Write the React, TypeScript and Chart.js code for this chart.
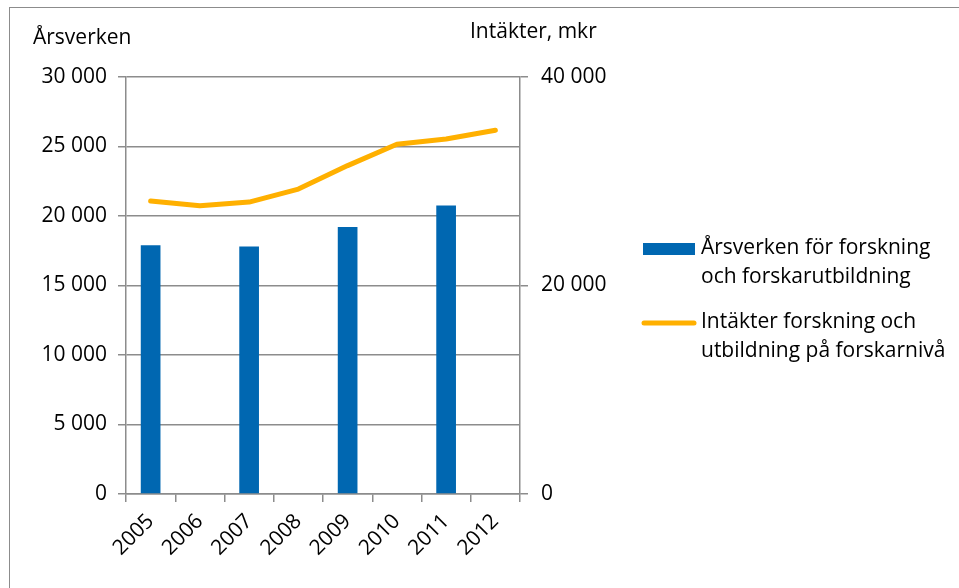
import React, { useEffect, useRef } from "react";
import { Chart, registerables } from "chart.js";

Chart.register(...registerables);

const years = ["2005", "2006", "2007", "2008", "2009", "2010", "2011", "2012"];
const arsverken = [17900, null, 17800, null, 19200, null, 20750, null];
const intakter = [28100, 27650, 28000, 29250, 31500, 33550, 34050, 34900];
const leftTitle = "Årsverken";
const rightTitle = "Intäkter, mkr";
const legendBar = ["Årsverken för forskning", "och forskarutbildning"];
const legendLine = ["Intäkter forskning och", "utbildning på forskarnivå"];

const BLUE = "#0067B1";
const ORANGE = "#FFB000";
const GRAY = "#8c8c8c";
const FONT = "'Open Sans', sans-serif";
const FS = 21;

const fmt = (v: number) => String(v).replace(/\B(?=(\d{3})+(?!\d))/g, " ");

const overlay = {
  id: "overlay",
  afterDraw(chart: any) {
    const ctx = chart.ctx;
    ctx.save();
    ctx.fillStyle = "#000";
    ctx.font = `${FS}px ${FONT}`;
    ctx.textBaseline = "middle";
    ctx.textAlign = "left";
    ctx.fillText(leftTitle, 33, 38);
    ctx.fillText(rightTitle, 470, 32);
    // legend
    ctx.fillStyle = BLUE;
    ctx.fillRect(643, 243, 52, 12);
    ctx.fillStyle = "#000";
    ctx.fillText(legendBar[0], 701, 248);
    ctx.fillText(legendBar[1], 701, 277);
    ctx.strokeStyle = ORANGE;
    ctx.lineWidth = 5;
    ctx.lineCap = "round";
    ctx.beginPath();
    ctx.moveTo(644, 323);
    ctx.lineTo(694, 323);
    ctx.stroke();
    ctx.fillText(legendLine[0], 701, 322);
    ctx.fillText(legendLine[1], 701, 351);
    ctx.restore();
  },
};

export default function App() {
  const ref = useRef<HTMLCanvasElement>(null);
  useEffect(() => {
    if (!ref.current) return;
    const chart = new Chart(ref.current, {
      type: "bar",
      data: {
        labels: years,
        datasets: [
          {
            type: "line",
            label: legendLine.join(" "),
            data: intakter,
            yAxisID: "y1",
            borderColor: ORANGE,
            backgroundColor: ORANGE,
            borderWidth: 5,
            borderCapStyle: "round",
            borderJoinStyle: "round",
            pointRadius: 0,
            tension: 0,
            order: 0,
          } as any,
          {
            type: "bar",
            label: legendBar.join(" "),
            data: arsverken,
            yAxisID: "y",
            backgroundColor: BLUE,
            barPercentage: 0.4,
            categoryPercentage: 1,
            order: 1,
          } as any,
        ],
      },
      options: {
        responsive: false,
        animation: false,
        layout: { padding: { top: 77, left: 0, right: 0, bottom: 0 } },
        plugins: { legend: { display: false }, tooltip: { enabled: false } },
        scales: {
          x: {
            type: "category",
            offset: true,
            grid: {
              offset: true,
              drawOnChartArea: false,
              drawTicks: true,
              tickLength: 8,
              color: GRAY,
              lineWidth: 1.5,
            },
            border: { color: GRAY, width: 1.5 },
            ticks: {
              minRotation: 45,
              maxRotation: 45,
              autoSkip: false,
              padding: 7,
              color: "#000",
              font: { family: FONT, size: FS },
            },
            afterFit: (s: any) => {
              s.height = 94;
            },
          },
          y: {
            position: "left",
            min: 0,
            max: 30000,
            ticks: {
              stepSize: 5000,
              padding: 11,
              color: "#000",
              font: { family: FONT, size: FS },
              callback: (v: any) => fmt(Number(v)),
            },
            grid: { color: GRAY, lineWidth: 1.5, tickLength: 8 },
            border: { color: GRAY, width: 1.5 },
            afterFit: (s: any) => {
              s.width = 126;
            },
          },
          y1: {
            position: "right",
            min: 0,
            max: 40000,
            ticks: {
              stepSize: 20000,
              padding: 13,
              color: "#000",
              font: { family: FONT, size: FS },
              callback: (v: any) => fmt(Number(v)),
            },
            grid: { drawOnChartArea: false, color: GRAY, lineWidth: 1.5, tickLength: 8 },
            border: { color: GRAY, width: 1.5 },
            afterFit: (s: any) => {
              s.width = 439;
            },
          },
        },
      } as any,
      plugins: [overlay],
    });
    return () => chart.destroy();
  }, []);

  return (
    <div
      style={{
        position: "absolute",
        left: 0,
        top: 0,
        width: 959,
        height: 588,
        overflow: "hidden",
        background: "#fff",
      }}
    >
      <div
        style={{
          position: "absolute",
          left: 9,
          top: 7,
          width: 1100,
          height: 800,
          border: `1.5px solid ${GRAY}`,
        }}
      />
      <canvas
        ref={ref}
        width={959}
        height={588}
        style={{ position: "absolute", left: 0, top: 0, width: 959, height: 588 }}
      />
    </div>
  );
}
